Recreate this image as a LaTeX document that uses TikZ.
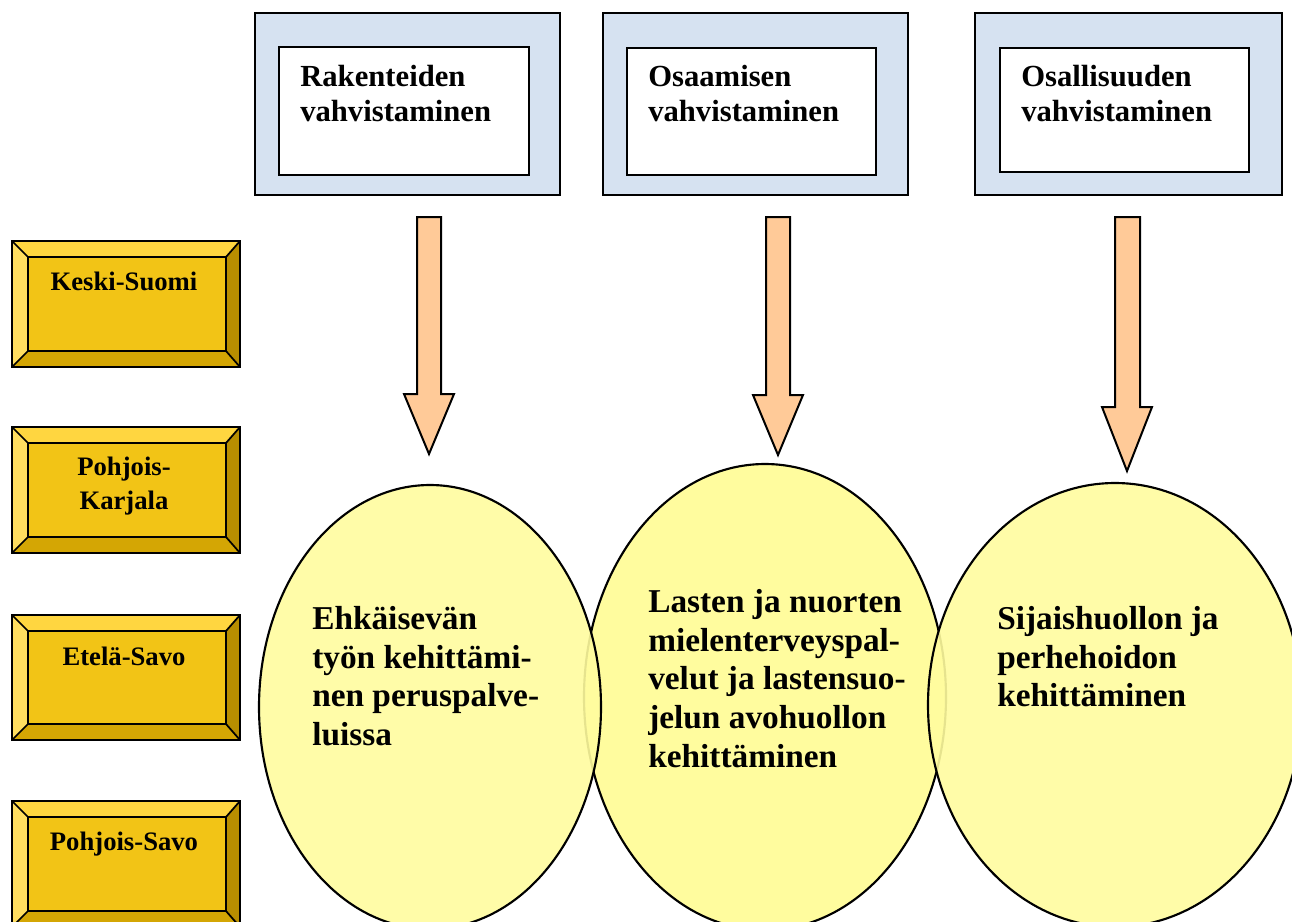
\documentclass[tikz,border=0pt]{standalone}
\usepackage{fontspec}
\setmainfont{Liberation Serif}
\definecolor{boxblue}{RGB}{214,226,241}
\definecolor{goldface}{RGB}{242,196,22}
\definecolor{goldtop}{RGB}{255,214,64}
\definecolor{goldleft}{RGB}{255,222,96}
\definecolor{goldright}{RGB}{184,142,0}
\definecolor{goldbot}{RGB}{212,166,4}
\definecolor{peach}{RGB}{255,202,152}
\definecolor{paleyellow}{RGB}{255,252,158}
\tikzset{
  outerbox/.style={fill=boxblue, draw=black, line width=1.4pt},
  innerbox/.style={fill=white, draw=black, line width=1.2pt},
  boxtext/.style={font=\fontsize{23}{26.25}\selectfont\bfseries, align=left, inner sep=0pt, anchor=north west},
  goldline/.style={draw=black, line width=1.3pt},
  goldtext/.style={font=\fontsize{20}{25.5}\selectfont\bfseries, align=center, inner sep=0pt, anchor=north},
  blockarrow/.style={fill=peach, draw=black, line width=1.5pt, line join=miter},
  bubble/.style={fill=paleyellow, draw=black, line width=1.6pt},
  bubbletext/.style={font=\fontsize{25}{29}\selectfont\bfseries, align=left, inner sep=0pt, anchor=north west},
}
\newcommand\goldbox[5]{%
  \fill[goldface] (12,#2) rectangle (240,#3);
  \fill[goldtop] (12,#2) -- (240,#2) -- (226,#2+16) -- (28,#2+16) -- cycle;
  \fill[goldbot] (12,#3) -- (240,#3) -- (226,#3-16) -- (28,#3-16) -- cycle;
  \fill[goldleft] (12,#2) -- (28,#2+16) -- (28,#3-16) -- (12,#3) -- cycle;
  \fill[goldright] (240,#2) -- (226,#2+16) -- (226,#3-16) -- (240,#3) -- cycle;
  \draw[goldline] (12,#2) rectangle (240,#3) (28,#2+16) rectangle (226,#3-16)
    (12,#2) -- (28,#2+16) (240,#2) -- (226,#2+16)
    (12,#3) -- (28,#3-16) (240,#3) -- (226,#3-16);
  \node[goldtext] (#1) at (124,#4) {#5};
}
\begin{document}
\begin{tikzpicture}[x=0.75pt,y=-0.75pt]
\useasboundingbox (0,0) rectangle (1292,921);
\clip (0,0) rectangle (1292,921);

% top boxes
\draw[outerbox] (255,13) rectangle (560,195);
\draw[innerbox] (279,47) rectangle (529,175);
\node[boxtext] (top1) at (300,65) {Rakenteiden\\vahvistaminen};

\draw[outerbox] (603,13) rectangle (908,195);
\draw[innerbox] (627,48) rectangle (876,175);
\node[boxtext] (top2) at (648,65) {Osaamisen\\vahvistaminen};

\draw[outerbox] (975,13) rectangle (1282,195);
\draw[innerbox] (1000,48) rectangle (1249,172);
\node[boxtext] (top3) at (1021,65) {Osallisuuden\\vahvistaminen};

% arrows
\draw[blockarrow] (417,217) -- (441,217) -- (441,394) -- (454,394) -- (429,454) -- (404,394) -- (417,394) -- cycle;
\draw[blockarrow] (766,217) -- (790,217) -- (790,395) -- (803,395) -- (778,455) -- (753,395) -- (766,395) -- cycle;
\draw[blockarrow] (1115,217) -- (1140,217) -- (1140,407) -- (1152,407) -- (1127,471) -- (1102,407) -- (1115,407) -- cycle;

% regional boxes
\goldbox{ks}{241}{367}{272}{Keski-Suomi}
\goldbox{pk}{427}{553}{457}{Pohjois-\\Karjala}
\goldbox{es}{615}{740}{647}{Etelä-Savo}
\goldbox{ps}{801}{927}{832}{Pohjois-Savo}

% ellipses
\path[bubble] (765,697) ellipse [x radius=181, y radius=233];
\path[bubble, fill opacity=0.9] (430,707) ellipse [x radius=171, y radius=222];
\path[bubble, fill opacity=0.9] (1115,705) ellipse [x radius=187, y radius=222];

\node[bubbletext] (b1) at (312,606) {Ehkäisevän\\työn kehittämi-\\nen peruspalve-\\luissa};
\node[bubbletext] (b2) at (648,589) {Lasten ja nuorten\\mielenterveyspal-\\velut ja lastensuo-\\jelun avohuollon\\kehittäminen};
\node[bubbletext] (b3) at (997,606) {Sijaishuollon ja\\perhehoidon\\kehittäminen};
\end{tikzpicture}
\end{document}
